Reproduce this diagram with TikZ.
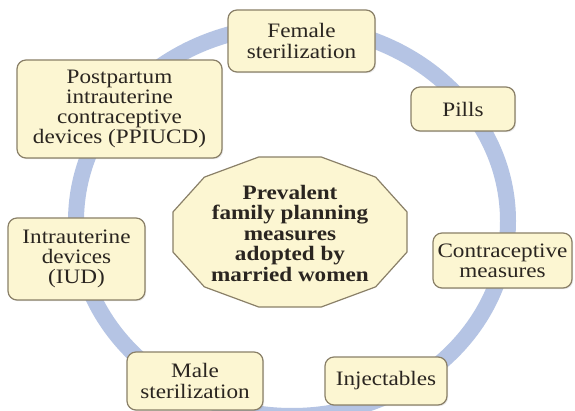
\documentclass[tikz,border=0pt]{standalone}
\usepackage{fontspec}
\setmainfont{Liberation Serif}[FakeStretch=1.13]
\usetikzlibrary{shadows}
\definecolor{ringblue}{HTML}{B5C4E4}
\definecolor{boxfill}{HTML}{FCF6D2}
\definecolor{boxline}{HTML}{8A8068}
\definecolor{txt}{HTML}{2A2520}
\tikzset{
  itembox/.style={draw=boxline, line width=1.2pt, fill=boxfill, rounded corners=9pt,
    align=center, inner sep=0pt, text=txt,
    font=\fontsize{20.5}{20.2}\selectfont,
    drop shadow={opacity=0.18, shadow xshift=1.2pt, shadow yshift=-1.2pt}},
  cshape/.style={draw=boxline, line width=1.2pt, fill=boxfill},
  ctext/.style={align=center, inner sep=0pt, text=txt,
    font=\fontsize{20.5}{20.5}\selectfont\bfseries},
  ringline/.style={draw=ringblue, line width=16pt}
}
\begin{document}
\begin{tikzpicture}[x=1pt,y=-1pt]
\useasboundingbox (0,0) rectangle (575,411);
\fill[white] (0,0) rectangle (575,411);
% ring
\coordinate (rc) at (292,221);
\draw[ringline] (rc) ellipse [x radius=216, y radius=195];
% center shape
\filldraw[cshape] plot[samples at={15,45,...,345}] ({290+121.1*cos(\x)},{232+77.6*sin(\x)}) -- cycle;
\node[ctext] (c) at (290,233) {Prevalent\\family planning\\measures\\adopted by\\married women};
% boxes
\node[itembox, minimum width=147pt, minimum height=62pt] (fem) at (301.5,41) {Female\\sterilization};
\node[itembox, minimum width=104pt, minimum height=44pt] (pills) at (463,109) {Pills};
\node[itembox, minimum width=205pt, minimum height=98pt] (post) at (119.5,109) {Postpartum\\intrauterine\\contraceptive\\devices (PPIUCD)};
\node[itembox, minimum width=137pt, minimum height=82pt] (iud) at (76.5,259) {Intrauterine\\devices\\(IUD)};
\node[itembox, minimum width=139pt, minimum height=55pt] (contra) at (502.5,260.5) {Contraceptive\\measures};
\node[itembox, minimum width=136pt, minimum height=58pt] (male) at (195,381) {Male\\sterilization};
\node[itembox, minimum width=122pt, minimum height=48pt] (inj) at (386,381) {Injectables};
\end{tikzpicture}
\end{document}
